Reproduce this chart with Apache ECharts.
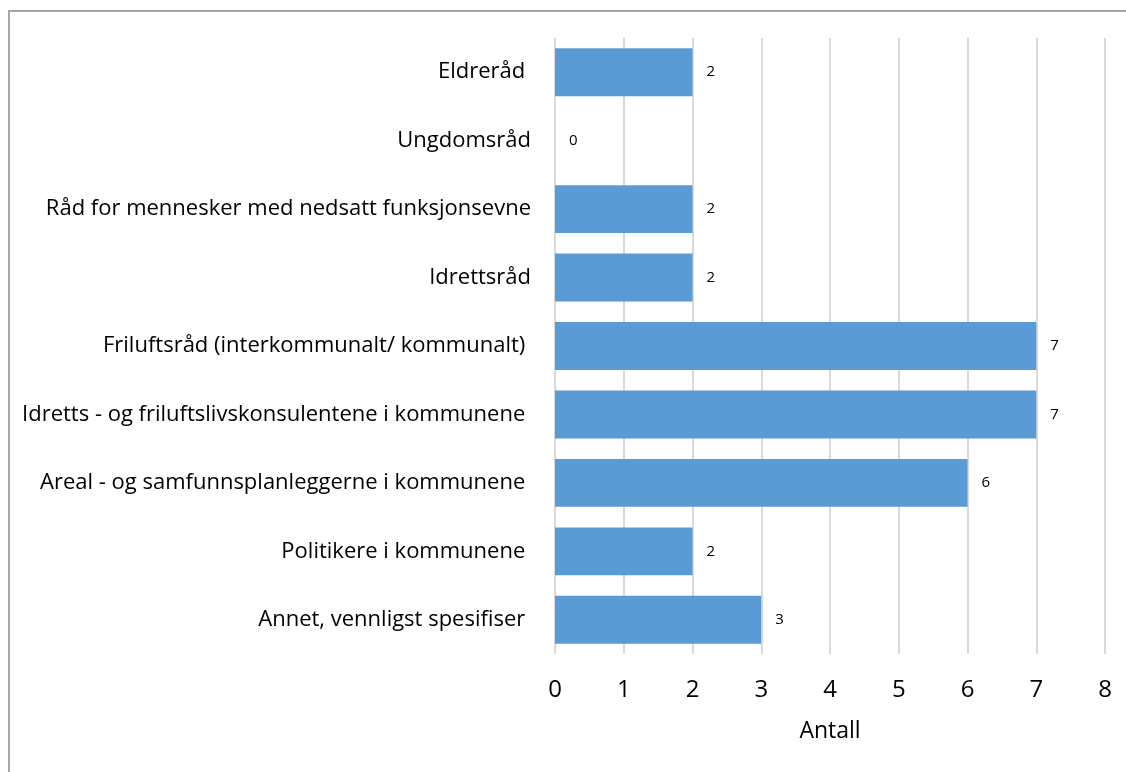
<!DOCTYPE html>
<html>
<head>
<meta charset="utf-8">
<script src="https://cdn.jsdelivr.net/npm/echarts@6/dist/echarts.min.js"></script>
<style>
  html, body { margin: 0; padding: 0; background: #fff; }
  #frame { position: absolute; left: 8px; top: 10px; width: 1200px; height: 800px; border-left: 2px solid #a6a6a6; border-top: 2px solid #a6a6a6; }
  #chart { position: absolute; left: 0; top: 0; width: 1126px; height: 772px; }
</style>
</head>
<body>
<div id="frame"></div>
<div id="chart"></div>
<script>
const categories = [
  'Eldreråd ',
  'Ungdomsråd',
  'Råd for mennesker med nedsatt funksjonsevne',
  'Idrettsråd',
  'Friluftsråd (interkommunalt/ kommunalt) ',
  'Idretts - og friluftslivskonsulentene i kommunene ',
  'Areal - og samfunnsplanleggerne i kommunene ',
  'Politikere i kommunene ',
  'Annet, vennligst spesifiser '
]
const counts = [2, 0, 2, 2, 7, 7, 6, 2, 3]
const xTicks = [0, 1, 2, 3, 4, 5, 6, 7, 8]

const font = "'Open Sans', sans-serif"
const chart = echarts.init(document.getElementById('chart'))

chart.setOption({
  animation: false,
  grid: { left: 555, right: 21, top: 38, bottom: 118, containLabel: false },
  xAxis: {
    type: 'value',
    min: xTicks[0],
    max: xTicks[xTicks.length - 1],
    interval: 1,
    name: 'Antall',
    nameLocation: 'middle',
    nameGap: 66,
    nameTextStyle: { fontFamily: font, fontSize: 23, color: '#000' },
    axisLine: { show: false },
    axisTick: { show: false },
    axisLabel: { fontFamily: font, fontSize: 24, color: '#000', margin: 24 },
    splitLine: { show: true, lineStyle: { color: '#d9d9d9', width: 2 } }
  },
  yAxis: {
    type: 'category',
    inverse: true,
    data: categories,
    axisLine: { show: false },
    axisTick: { show: false },
    axisLabel: { fontFamily: font, fontSize: 22, color: '#000', margin: 24 }
  },
  series: [{
    type: 'bar',
    data: counts,
    barCategoryGap: '30%',
    itemStyle: { color: '#5b9bd5' },
    label: {
      show: true,
      position: 'right',
      distance: 14,
      fontFamily: font,
      fontSize: 15,
      color: '#000'
    }
  }]
})
</script>
</body>
</html>
